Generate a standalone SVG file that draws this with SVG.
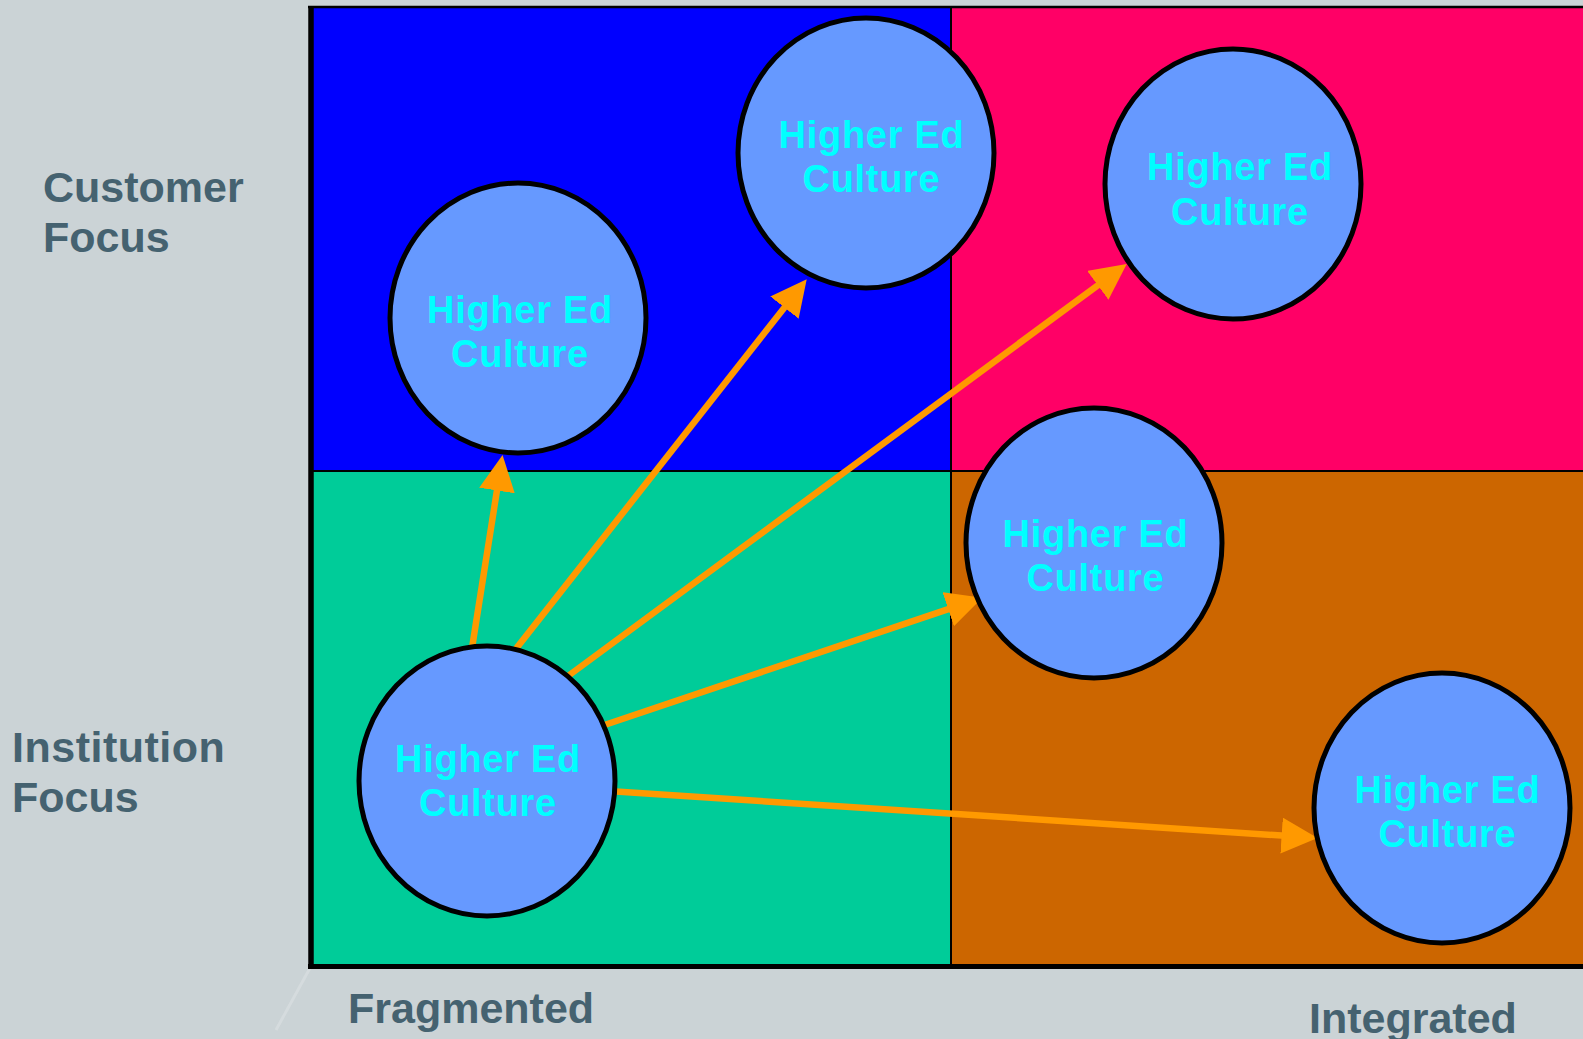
<svg xmlns="http://www.w3.org/2000/svg" width="1583" height="1039" viewBox="0 0 1583 1039">
<style>
.lbl{font-family:"Liberation Sans",Arial,sans-serif;font-weight:bold;font-size:43px;fill:#456270}
.node ellipse{fill:#6699FF;stroke:#000;stroke-width:5}
.node text{font-family:"Liberation Sans",Arial,sans-serif;font-weight:bold;font-size:38px;fill:#00FFFF;text-anchor:middle;letter-spacing:0.7px}
.arrow{stroke:#FF9900;stroke-width:6.5;fill:none;marker-end:url(#ah)}
</style>
<defs>
<marker id="ah" viewBox="0 0 36 36" refX="8" refY="18" markerWidth="36" markerHeight="36" markerUnits="userSpaceOnUse" orient="auto">
<path d="M0,0 L36,18 L0,36 z" fill="#FF9900"/>
</marker>
</defs>
<rect x="0" y="0" width="1583" height="1039" fill="#CBD3D6"/>
<line x1="310" y1="968" x2="276" y2="1030" stroke="#D8DEE0" stroke-width="3" opacity="0.8"/>
<g id="quadrants">
<rect x="313" y="8" width="638" height="463" fill="#0000FF"/>
<rect x="951" y="8" width="632" height="463" fill="#FF0066"/>
<rect x="313" y="471" width="638" height="493" fill="#00CC99"/>
<rect x="951" y="471" width="632" height="493" fill="#CC6600"/>
<line x1="951" y1="8" x2="951" y2="964" stroke="#000" stroke-width="2"/>
<line x1="313" y1="471" x2="1583" y2="471" stroke="#000" stroke-width="2"/>
<line x1="308" y1="7" x2="1583" y2="7" stroke="#000" stroke-width="2.5"/>
<line x1="311" y1="6" x2="311" y2="969" stroke="#000" stroke-width="5.5"/>
<line x1="308" y1="966.5" x2="1583" y2="966.5" stroke="#000" stroke-width="5"/>
</g>
<g id="axis-labels">
<text class="lbl" x="43" y="202">Customer</text>
<text class="lbl" x="43" y="252">Focus</text>
<text class="lbl" x="12" y="762" letter-spacing="0.5">Institution</text>
<text class="lbl" x="12" y="812">Focus</text>
<text class="lbl" x="348" y="1023">Fragmented</text>
<text class="lbl" x="1309" y="1033">Integrated</text>
</g>
<g id="connectors">
<line class="arrow" x1="471.7" y1="650" x2="498.2" y2="482.6"/>
<line class="arrow" x1="515" y1="650" x2="789.4" y2="301.3"/>
<line class="arrow" x1="566" y1="677.5" x2="1104.2" y2="280.6"/>
<line class="arrow" x1="603" y1="725.5" x2="955.8" y2="606.6"/>
<line class="arrow" x1="612" y1="791.2" x2="1289.6" y2="836.1"/>
</g>
<g id="node-upper-left" class="node">
<ellipse cx="518" cy="318" rx="128" ry="135"/>
<text x="520" y="323">Higher Ed</text>
<text x="520" y="367">Culture</text>
</g>
<g id="node-top" class="node">
<ellipse cx="866" cy="153" rx="128" ry="135"/>
<text x="871.5" y="148">Higher Ed</text>
<text x="871.5" y="192">Culture</text>
</g>
<g id="node-top-right" class="node">
<ellipse cx="1233" cy="184" rx="128" ry="135"/>
<text x="1240" y="180">Higher Ed</text>
<text x="1240" y="225">Culture</text>
</g>
<g id="node-middle-right" class="node">
<ellipse cx="1094" cy="543" rx="128" ry="135"/>
<text x="1095.5" y="547">Higher Ed</text>
<text x="1095.5" y="591">Culture</text>
</g>
<g id="node-bottom-right" class="node">
<ellipse cx="1442" cy="808" rx="128" ry="135"/>
<text x="1447.5" y="803">Higher Ed</text>
<text x="1447.5" y="847">Culture</text>
</g>
<g id="node-source" class="node">
<ellipse cx="487" cy="781" rx="128" ry="135"/>
<text x="488" y="772">Higher Ed</text>
<text x="488" y="816">Culture</text>
</g>
</svg>
